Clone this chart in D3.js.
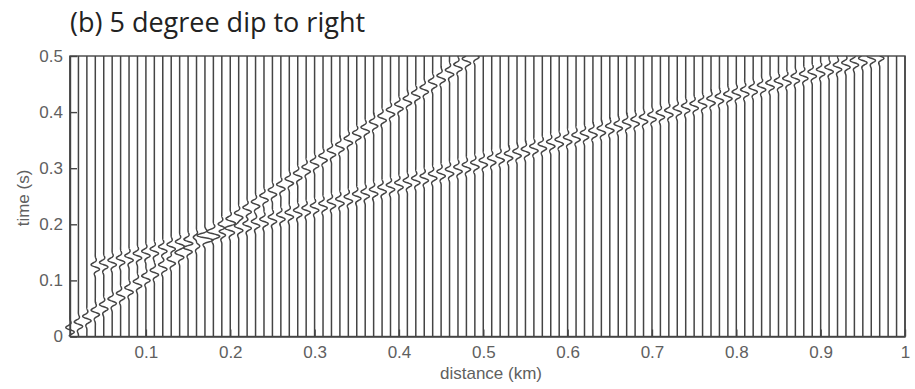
<!DOCTYPE html>
<html>
<head>
<meta charset="utf-8">
<script src="https://cdn.jsdelivr.net/npm/d3@7"></script>
<style>
  html, body { margin: 0; padding: 0; background: #fff; }
  svg { display: block; }
</style>
</head>
<body>
<svg id="chart" width="915" height="389"></svg>
<script>
// Trace positions (km)
const traceDistances = [
  0.01,0.02,0.03,0.04,0.05,0.06,0.07,0.08,0.09,0.10,
  0.11,0.12,0.13,0.14,0.15,0.16,0.17,0.18,0.19,0.20,
  0.21,0.22,0.23,0.24,0.25,0.26,0.27,0.28,0.29,0.30,
  0.31,0.32,0.33,0.34,0.35,0.36,0.37,0.38,0.39,0.40,
  0.41,0.42,0.43,0.44,0.45,0.46,0.47,0.48,0.49,0.50,
  0.51,0.52,0.53,0.54,0.55,0.56,0.57,0.58,0.59,0.60,
  0.61,0.62,0.63,0.64,0.65,0.66,0.67,0.68,0.69,0.70,
  0.71,0.72,0.73,0.74,0.75,0.76,0.77,0.78,0.79,0.80,
  0.81,0.82,0.83,0.84,0.85,0.86,0.87,0.88,0.89,0.90,
  0.91,0.92,0.93,0.94,0.95,0.96,0.97,0.98,0.99,1.00
];

// Steep event: arrival time (s) on consecutive traces starting at eventAFirstTrace
const eventAFirstTrace = 0.01;
const eventATimes = [
  0.012,0.022,0.032,0.043,0.053,0.063,0.073,0.083,0.094,0.104,
  0.114,0.124,0.134,0.145,0.155,0.165,0.175,0.185,0.196,0.206,
  0.216,0.226,0.236,0.247,0.257,0.267,0.277,0.287,0.298,0.308,
  0.318,0.328,0.338,0.349,0.359,0.369,0.379,0.389,0.400,0.410,
  0.420,0.430,0.440,0.451,0.461,0.471,0.481,0.491,0.502
];

// Shallow (5 degree dip) event
const eventBFirstTrace = 0.04;
const eventBTimes = [
  0.124,0.128,0.132,0.136,0.140,0.144,0.148,0.152,0.156,0.160,
  0.165,0.169,0.173,0.177,0.181,0.185,0.189,0.193,0.197,0.201,
  0.205,0.209,0.213,0.217,0.221,0.225,0.229,0.233,0.237,0.241,
  0.245,0.250,0.254,0.258,0.262,0.266,0.270,0.274,0.278,0.282,
  0.286,0.290,0.294,0.298,0.302,0.306,0.310,0.314,0.318,0.322,
  0.326,0.330,0.335,0.339,0.343,0.347,0.351,0.355,0.359,0.363,
  0.367,0.371,0.375,0.379,0.383,0.387,0.391,0.395,0.399,0.403,
  0.407,0.411,0.415,0.420,0.424,0.428,0.432,0.436,0.440,0.444,
  0.448,0.452,0.456,0.460,0.464,0.468,0.472,0.476,0.480,0.484,
  0.488,0.492,0.496,0.500
];

const xTicks = [0.1,0.2,0.3,0.4,0.5,0.6,0.7,0.8,0.9,1];
const xTickLabels = ["0.1","0.2","0.3","0.4","0.5","0.6","0.7","0.8","0.9","1"];
const yTicks = [0,0.1,0.2,0.3,0.4,0.5];
const yTickLabels = ["0","0.1","0.2","0.3","0.4","0.5"];

const titleText = "(b) 5 degree dip to right";
const xLabel = "distance (km)";
const yLabel = "time (s)";

// ---- layout ----
const plot = { left: 70, right: 905, top: 56, bottom: 336.5 };
const svg = d3.select("#chart");
const labelFont = "'Liberation Sans', Arial, sans-serif";
const labelColor = "#606060";

const x = d3.scaleLinear().domain([0.01, 1]).range([plot.left, plot.right]);
const y = d3.scaleLinear().domain([0, 0.5]).range([plot.bottom, plot.top]);

// Build arrival lookup: trace index -> list of arrival times
const key = d => Math.round(d * 100);
const arrivals = new Map();
function addEvent(first, times) {
  times.forEach((t, i) => {
    const k = key(first) + i;
    if (!arrivals.has(k)) arrivals.set(k, []);
    arrivals.get(k).push(t);
  });
}
addEvent(eventAFirstTrace, eventATimes);
addEvent(eventBFirstTrace, eventBTimes);

// Wavelet (horizontal deflection in px) as a function of time offset
const ampPx = 5.0, period = 0.019, width = 0.0105;
function wavelet(tau) {
  return -ampPx * Math.sin(2 * Math.PI * tau / period) * Math.exp(-(tau / width) * (tau / width));
}

const dt = 0.0005;
const samples = d3.range(0, 0.5 + dt / 2, dt);

svg.append("defs").append("clipPath").attr("id", "plotClip")
  .append("rect")
  .attr("x", plot.left - 6).attr("y", plot.top)
  .attr("width", plot.right - plot.left + 12).attr("height", plot.bottom - plot.top);

const traces = svg.append("g").attr("clip-path", "url(#plotClip)");
const line = d3.line().x(p => p[0]).y(p => p[1]);

traceDistances.forEach(d => {
  const picks = arrivals.get(key(d)) || [];
  const pts = samples.map(t => {
    let dx = 0;
    picks.forEach(t0 => { dx += wavelet(t - t0); });
    return [x(d) + dx, y(t)];
  });
  traces.append("path")
    .attr("d", line(pts))
    .attr("fill", "none")
    .attr("stroke", "#444")
    .attr("stroke-width", 1.5)
    .attr("stroke-linejoin", "round");
});

// frame
svg.append("rect")
  .attr("x", plot.left).attr("y", plot.top)
  .attr("width", plot.right - plot.left).attr("height", plot.bottom - plot.top)
  .attr("fill", "none").attr("stroke", "#444").attr("stroke-width", 1.4);

// axes (ticks pointing inward)
const xAxis = d3.axisBottom(x).tickValues(xTicks)
  .tickFormat((d, i) => xTickLabels[i]).tickSizeInner(-7).tickSizeOuter(0).tickPadding(9);
const yAxis = d3.axisLeft(y).tickValues(yTicks)
  .tickFormat((d, i) => yTickLabels[i]).tickSizeInner(-7).tickSizeOuter(0).tickPadding(7);

const gx = svg.append("g").attr("transform", `translate(0,${plot.bottom})`).call(xAxis);
const gy = svg.append("g").attr("transform", `translate(${plot.left},0)`).call(yAxis);
[gx, gy].forEach(g => {
  g.select(".domain").attr("stroke", "#444").attr("stroke-width", 1.4);
  g.selectAll(".tick line").attr("stroke", "#444").attr("stroke-width", 1.4);
  g.selectAll(".tick text")
    .attr("fill", labelColor)
    .style("font-family", labelFont)
    .style("font-size", "17px");
});

svg.append("text")
  .attr("x", 491).attr("y", 379)
  .attr("text-anchor", "middle")
  .attr("fill", labelColor)
  .style("font-family", labelFont)
  .style("font-size", "17px")
  .text(xLabel);

svg.append("text")
  .attr("transform", `translate(29,198) rotate(-90)`)
  .attr("text-anchor", "middle")
  .attr("fill", labelColor)
  .style("font-family", labelFont)
  .style("font-size", "17px")
  .text(yLabel);

svg.append("text")
  .attr("x", 70).attr("y", 32)
  .attr("fill", "#222")
  .style("font-family", "'Open Sans', 'Noto Sans', sans-serif")
  .style("font-size", "27px")
  .text(titleText);
</script>
</body>
</html>
